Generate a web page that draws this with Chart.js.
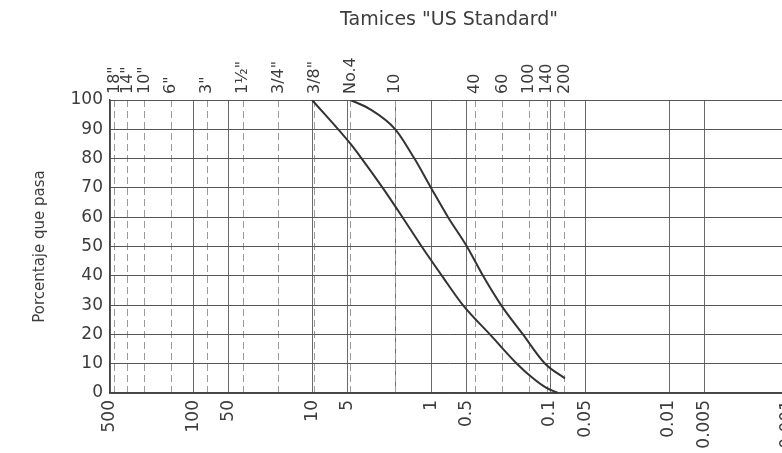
<!DOCTYPE html>
<html>
<head>
<meta charset="utf-8">
<script src="https://cdn.jsdelivr.net/npm/chart.js@4/dist/chart.umd.min.js"></script>
<style>
  html, body { margin: 0; padding: 0; background: #fff; overflow: hidden; }
  #wrap { position: relative; width: 792px; height: 453px; }
</style>
</head>
<body>
<div id="wrap"><canvas id="granulometria"></canvas></div>
<script>
// abertura en mm (eje inferior) y sus rótulos
const aberturas = [500, 100, 50, 10, 5, 2, 1, 0.5, 0.1, 0.05, 0.01, 0.005, 0.001];
const rotulosAbertura = ['500', '100', '50', '10', '5', '', '1', '0.5', '0.1', '0.05', '0.01', '0.005', '0.001'];

// tamices US Standard (eje superior), abertura en mm
const tamices = [457, 356, 254, 152, 76.2, 38.1, 19.05, 9.525, 4.75, 2.0, 0.425, 0.25, 0.15, 0.106, 0.075];
const rotulosTamiz = ['18"', '14"', '10"', '6"', '3"', '1½"', '3/4"', '3/8"', 'No.4', '10', '40', '60', '100', '140', '200'];

const porcentajes = [0, 10, 20, 30, 40, 50, 60, 70, 80, 90, 100];

// curva de la izquierda (menor porcentaje que pasa)
const tamInferior = [10, 4.75, 3.83, 2.55, 1.74, 1.2, 0.81, 0.54, 0.32, 0.19, 0.139, 0.11, 0.086];
const pasaInferior = [100, 85, 80, 70, 60, 50, 40, 30, 20, 10, 5, 2, 0];

// curva de la derecha (mayor porcentaje que pasa)
const tamSuperior = [4.75, 3.3, 2.0, 1.38, 1.0, 0.72, 0.50, 0.366, 0.258, 0.169, 0.110, 0.075];
const pasaSuperior = [100, 97, 90, 80, 70, 60, 50, 40, 30, 20, 10, 5];

const fuente = "'DejaVu Sans', sans-serif";
const tinta = '#3c3c3c';

function puntos(tams, pasa) {
  return tams.map((t, i) => ({ x: t, y: pasa[i] }));
}

function curva(tams, pasa) {
  return {
    data: puntos(tams, pasa),
    borderColor: '#333',
    borderWidth: 2,
    pointRadius: 0,
    fill: false,
    cubicInterpolationMode: 'monotone',
    xAxisID: 'x',
    yAxisID: 'y'
  };
}

const ctx = document.getElementById('granulometria').getContext('2d');
new Chart(ctx, {
  type: 'line',
  data: {
    datasets: [curva(tamInferior, pasaInferior), curva(tamSuperior, pasaSuperior)]
  },
  options: {
    responsive: true,
    maintainAspectRatio: false,
    devicePixelRatio: 1,
    animation: false,
    layout: { padding: { left: 0, right: 4, top: 0, bottom: 0 } },
    plugins: {
      legend: { display: false },
      tooltip: { enabled: false }
    },
    scales: {
      x: {
        type: 'logarithmic',
        position: 'bottom',
        min: 0.001,
        max: 500,
        reverse: true,
        afterBuildTicks: s => { s.ticks = aberturas.map(v => ({ value: v })); },
        afterFit: s => { s.height = 60; s.paddingLeft = 0; s.paddingRight = 0; },
        ticks: {
          autoSkip: false,
          minRotation: 90,
          maxRotation: 90,
          padding: 7,
          color: tinta,
          font: { family: fuente, size: 17 },
          callback: v => rotulosAbertura[aberturas.indexOf(v)]
        },
        grid: { color: '#6a6a6a', lineWidth: 1, drawTicks: false },
        border: { display: true, color: '#444', width: 1.5 }
      },
      xTamices: {
        type: 'logarithmic',
        position: 'top',
        min: 0.001,
        max: 500,
        reverse: true,
        afterBuildTicks: s => { s.ticks = tamices.map(v => ({ value: v })); },
        afterFit: s => { s.height = 100; s.paddingLeft = 0; s.paddingRight = 0; },
        title: {
          display: true,
          text: 'Tamices "US Standard"',
          color: tinta,
          font: { family: fuente, size: 19 },
          padding: { top: 9, bottom: 0 }
        },
        ticks: {
          autoSkip: false,
          minRotation: 90,
          maxRotation: 90,
          padding: 6,
          labelOffset: 19,
          color: tinta,
          font: { family: fuente, size: 16 },
          callback: v => rotulosTamiz[tamices.indexOf(v)]
        },
        grid: { color: '#9a9a9a', lineWidth: 1, drawTicks: false },
        border: { display: false, dash: [7, 4] }
      },
      y: {
        type: 'linear',
        position: 'left',
        min: 0,
        max: 100,
        afterBuildTicks: s => { s.ticks = porcentajes.map(v => ({ value: v })); },
        afterFit: s => { s.width = 110; s.paddingTop = 0; s.paddingBottom = 0; },
        title: {
          display: true,
          text: 'Porcentaje que pasa',
          color: tinta,
          font: { family: fuente, size: 15 },
          padding: { top: 31, bottom: 0 }
        },
        ticks: {
          padding: 7,
          color: tinta,
          font: { family: fuente, size: 17 }
        },
        grid: { color: '#555', lineWidth: 1, drawTicks: false },
        border: { display: true, color: '#444', width: 1.5 }
      }
    }
  }
});
</script>
</body>
</html>
